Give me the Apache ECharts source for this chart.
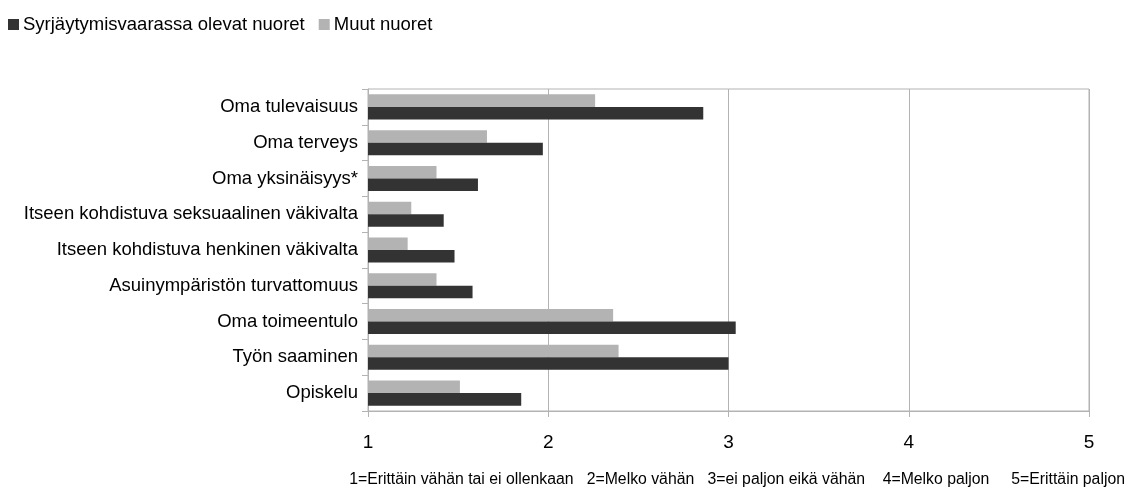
<!DOCTYPE html>
<html>
<head>
<meta charset="utf-8">
<script src="https://cdn.jsdelivr.net/npm/echarts@6/dist/echarts.min.js"></script>
<style>
  html, body { margin: 0; padding: 0; background: #fff; }
  #chart { width: 1126px; height: 493px; }
</style>
</head>
<body>
<div id="chart"></div>
<script>
// categories, top to bottom
const categories = [
  'Oma tulevaisuus',
  'Oma terveys',
  'Oma yksinäisyys*',
  'Itseen kohdistuva seksuaalinen väkivalta',
  'Itseen kohdistuva henkinen väkivalta',
  'Asuinympäristön turvattomuus',
  'Oma toimeentulo',
  'Työn saaminen',
  'Opiskelu'
]
const riskGroup = [2.86, 1.97, 1.61, 1.42, 1.48, 1.58, 3.04, 3.00, 1.85]
const otherYouth = [2.26, 1.66, 1.38, 1.24, 1.22, 1.38, 2.36, 2.39, 1.51]
const scaleNote = '1=Erittäin vähän tai ei ollenkaan   2=Melko vähän   3=ei paljon eikä vähän    4=Melko paljon     5=Erittäin paljon'

const font = '"Liberation Sans", Arial, sans-serif'
const chart = echarts.init(document.getElementById('chart'))

chart.setOption({
  animation: false,
  textStyle: { fontFamily: font },
  legend: {
    left: 3,
    top: 10,
    itemWidth: 11,
    itemHeight: 11,
    itemGap: 14,
    icon: 'rect',
    data: ['Syrjäytymisvaarassa olevat nuoret', 'Muut nuoret'],
    textStyle: { fontFamily: font, fontSize: 18.5, color: '#000', padding: [0, 0, 0, -1] }
  },
  grid: {
    left: 368,
    right: 37,
    top: 89,
    bottom: 82,
    outerBoundsMode: 'none',
    show: true,
    borderColor: '#b3b3b3',
    borderWidth: 1
  },
  xAxis: {
    type: 'value',
    min: 1,
    max: 5,
    interval: 1,
    axisLine: { show: true, lineStyle: { color: '#b3b3b3' } },
    axisTick: { show: true, length: 6, lineStyle: { color: '#b3b3b3' } },
    axisLabel: { color: '#000', fontSize: 19, margin: 22, fontFamily: font },
    splitLine: { show: true, lineStyle: { color: '#b3b3b3', width: 1 } }
  },
  yAxis: {
    type: 'category',
    data: categories,
    inverse: true,
    axisLine: { show: true, lineStyle: { color: '#b3b3b3' } },
    axisTick: { show: true, length: 6, lineStyle: { color: '#b3b3b3' } },
    axisLabel: { color: '#000', fontSize: 18.5, margin: 10, fontFamily: font },
    splitLine: { show: false }
  },
  series: [
    {
      name: 'Muut nuoret',
      type: 'bar',
      data: otherYouth,
      itemStyle: { color: '#b3b3b3' },
      barGap: '0%',
      barCategoryGap: '30%'
    },
    {
      name: 'Syrjäytymisvaarassa olevat nuoret',
      type: 'bar',
      data: riskGroup,
      itemStyle: { color: '#333333' },
      barGap: '0%',
      barCategoryGap: '30%'
    }
  ],
  graphic: [
    {
      type: 'text',
      right: 1,
      top: 472,
      style: { text: scaleNote, fontSize: 15.8, fill: '#000', fontFamily: font }
    }
  ]
})
</script>
</body>
</html>
